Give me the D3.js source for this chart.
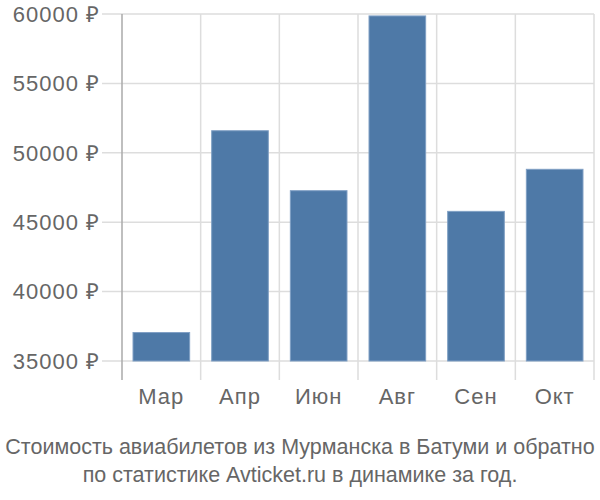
<!DOCTYPE html>
<html>
<head>
<meta charset="utf-8">
<script src="https://cdn.jsdelivr.net/npm/d3@7"></script>
<style>
  body { margin: 0; background: #fff; }
  svg { display: block; font-family: "Liberation Sans", Arial, sans-serif; }
</style>
</head>
<body>
<svg id="chart" width="600" height="500"></svg>
<script>
// Data
var months = ["Мар", "Апр", "Июн", "Авг", "Сен", "Окт"];
var prices = [37050, 51590, 47270, 59860, 45780, 48810];
var yTicks = [35000, 40000, 45000, 50000, 55000, 60000];
var captionLines = [
    "Стоимость авиабилетов из Мурманска в Батуми и обратно",
    "по статистике Avticket.ru в динамике за год."
];

var svg = d3.select("#chart");
var margin = { left: 122, right: 6, top: 14, bottom: 139 };
var width = 600 - margin.left - margin.right;
var height = 500 - margin.top - margin.bottom;

var x = d3.scaleBand().domain(months).range([0, width]).paddingInner(0.28).paddingOuter(0.14);
var y = d3.scaleLinear().domain([35000, 60000]).range([height, 0]);

var g = svg.append("g").attr("transform", "translate(" + margin.left + "," + margin.top + ")");

// horizontal grid + tick stubs
g.selectAll(".hgrid").data(yTicks).enter().append("line")
    .attr("x1", -20).attr("x2", width)
    .attr("y1", function (d) { return y(d); }).attr("y2", function (d) { return y(d); })
    .style("stroke", "#dddddd").style("stroke-width", 1.5);

// vertical grid at band edges
var edges = months.map(function (m) { return x(m) - x.step() * x.paddingInner() / 2; });
edges.push(width);
g.selectAll(".vgrid").data(edges.slice(1)).enter().append("line")
    .attr("x1", function (d) { return d; }).attr("x2", function (d) { return d; })
    .attr("y1", 0).attr("y2", height + 19)
    .style("stroke", "#dddddd").style("stroke-width", 1.5);

// y axis line
g.append("line").attr("x1", 0).attr("x2", 0).attr("y1", 0).attr("y2", height + 19)
    .style("stroke", "#aaaaaa").style("stroke-width", 1.5);

// y labels
g.selectAll(".ylab").data(yTicks).enter().append("text")
    .attr("x", -22).attr("y", function (d) { return y(d); })
    .attr("dy", "0.35em").attr("text-anchor", "end")
    .style("font-size", "22px").style("letter-spacing", "1px").style("fill", "#666666")
    .text(function (d) { return d + " ₽"; });

// bars
g.selectAll(".bar").data(prices).enter().append("rect")
    .attr("x", function (d, i) { return x(months[i]); })
    .attr("width", x.bandwidth())
    .attr("y", function (d) { return y(d); })
    .attr("height", function (d) { return height - y(d); })
    .style("fill", "#4e79a7").style("stroke", "#7f9fc4").style("stroke-width", 1);

// x labels
g.selectAll(".xlab").data(months).enter().append("text")
    .attr("x", function (d) { return x(d) + x.bandwidth() / 2; })
    .attr("y", height + 43)
    .attr("text-anchor", "middle")
    .style("font-size", "22px").style("letter-spacing", "1px").style("fill", "#666666")
    .text(function (d) { return d; });

// caption
svg.selectAll(".cap").data(captionLines).enter().append("text")
    .attr("x", 300).attr("y", function (d, i) { return 454 + i * 28; })
    .attr("text-anchor", "middle")
    .style("font-family", "'Liberation Sans Narrow', 'Liberation Sans', sans-serif")
    .style("font-size", "21.5px").style("fill", "#666666")
    .text(function (d) { return d; });
</script>
</body>
</html>
